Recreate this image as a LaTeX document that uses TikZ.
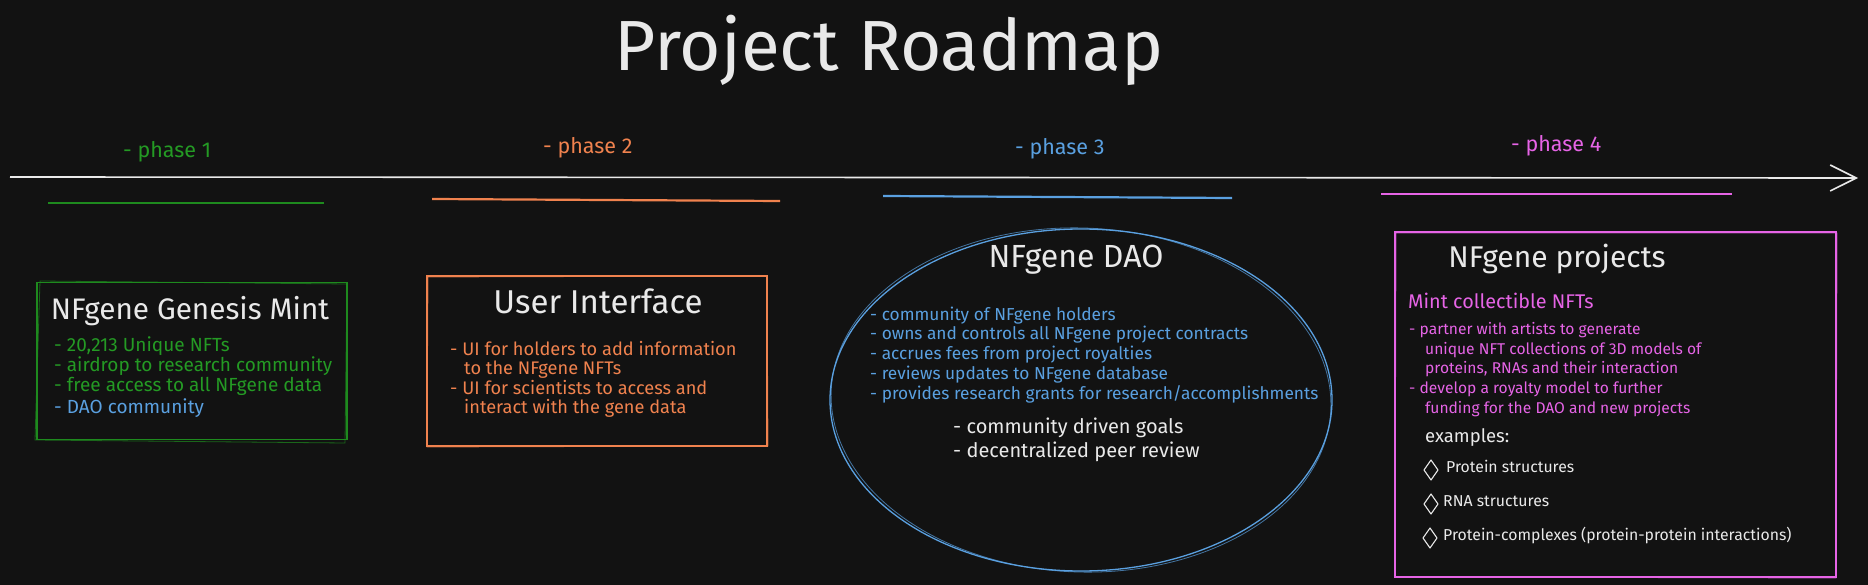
\documentclass[tikz,border=0pt]{standalone}
\usepackage{fontspec}
\setmainfont{Fira Sans}
\usetikzlibrary{arrows.meta,shapes.geometric}
\definecolor{bg}{HTML}{121212}
\definecolor{ink}{HTML}{E9E9E9}
\definecolor{grn}{HTML}{1E8A1E}
\definecolor{grntxt}{HTML}{249A24}
\definecolor{org}{HTML}{F0824E}
\definecolor{blu}{HTML}{5AA0E0}
\definecolor{pnk}{HTML}{E664E6}
\tikzset{
  txt/.style={inner sep=0pt, anchor=mid west, font=\fontsize{17.3}{20}\selectfont},
  ttl/.style={inner sep=0pt, anchor=mid, text=ink, font=\fontsize{30}{34}\selectfont},
  phase/.style={inner sep=0pt, anchor=mid west, font=\fontsize{21.5}{24}\selectfont},
  uline/.style={line width=2.2pt},
  frame/.style={draw, line width=1.3pt, inner sep=0pt},
  ghost/.style={line width=0.8pt, opacity=0.7},
  dia/.style={draw=ink, line width=1.1pt, line join=round},
}
\begin{document}
\begin{tikzpicture}[x=1pt,y=-1pt]
\fill[bg] (0,0) rectangle (1868,585);
\useasboundingbox (0,0) rectangle (1868,585);

% title
\node[inner sep=0pt, anchor=base, text=ink, font=\fontsize{71}{80}\selectfont] (title) at (889,71) {Project Roadmap};

% timeline
\coordinate (tl0) at (10,177);
\coordinate (tl1) at (1858,178);
\draw[ink, line width=1.6pt, -{Straight Barb[length=26pt,width=26pt,line width=1.6pt]}] (tl0) -- (tl1);

% phases
\node[phase, text=grntxt] (p1) at (123,155) {- phase 1};
\node[phase, text=org] (p2) at (543,151) {- phase 2};
\node[phase, text=blu] (p3) at (1015,152) {- phase 3};
\node[phase, text=pnk] (p4) at (1511,149) {- phase 4};

\coordinate (u1a) at (48,203); \coordinate (u1b) at (324,203);
\coordinate (u2a) at (432,199); \coordinate (u2b) at (780,201);
\coordinate (u3a) at (883,196); \coordinate (u3b) at (1232,198);
\coordinate (u4a) at (1381,194); \coordinate (u4b) at (1732,194);
\draw[uline, grn] (u1a) -- (u1b);
\draw[uline, org] (u2a) -- (u2b);
\draw[uline, blu] (u3a) -- (u3b);
\draw[uline, pnk] (u4a) -- (u4b);

% phase 1 box
\node[frame, draw=grn, minimum width=310pt, minimum height=157pt] (b1) at (192,361) {};
\draw[ghost, grn] (40,281) -- (347,284) -- (345,443) -- (35,440) -- cycle;
\node[ttl, font=\fontsize{29.7}{34}\selectfont] (b1t) at (190,317) {NFgene Genesis Mint};
\node[txt, text=grntxt, font=\fontsize{19}{22}\selectfont] (b1a) at (54,349) {- 20,213 Unique NFTs};
\node[txt, text=grntxt, font=\fontsize{19}{22}\selectfont] (b1b) at (54,369) {- airdrop to research community};
\node[txt, text=grntxt, font=\fontsize{19}{22}\selectfont] (b1c) at (54,389) {- free access to all NFgene data};
\node[txt, text=blu, font=\fontsize{19}{22}\selectfont] (b1d) at (54,411) {- DAO community};

% phase 2 box
\node[frame, draw=org, minimum width=340pt, minimum height=170pt] (b2) at (597,361) {};
\draw[ghost, org] (428,277) -- (767,276) -- (768,446) -- (427,447) -- cycle;
\node[ttl, font=\fontsize{33}{38}\selectfont] (b2t) at (598,311) {User Interface};
\node[txt, text=org, font=\fontsize{18.2}{22}\selectfont] (b2a) at (450,353) {- UI for holders to add information};
\node[txt, text=org, font=\fontsize{18.2}{22}\selectfont] (b2b) at (464,372) {to the NFgene NFTs};
\node[txt, text=org, font=\fontsize{18.2}{22}\selectfont] (b2c) at (450,392) {- UI for scientists to access and};
\node[txt, text=org, font=\fontsize{18.2}{22}\selectfont] (b2d) at (464,411) {interact with the gene data};

% phase 3 ellipse
\node[draw=blu, line width=1.3pt, ellipse, minimum width=502pt, minimum height=342pt, inner sep=0pt] (b3) at (1081,400) {};
\draw[ghost, blu, rotate around={-2:(1081,400)}] (1081,400) ellipse [x radius=250pt, y radius=172pt];
\node[ttl, font=\fontsize{32}{36}\selectfont] (b3t) at (1076,265) {NFgene DAO};
\node[txt, text=blu] (b3a) at (870,318) {- community of NFgene holders};
\node[txt, text=blu] (b3b) at (870,337) {- owns and controls all NFgene project contracts};
\node[txt, text=blu] (b3c) at (870,357) {- accrues fees from project royalties};
\node[txt, text=blu] (b3d) at (870,377) {- reviews updates to NFgene database};
\node[txt, text=blu] (b3e) at (870,397) {- provides research grants for research/accomplishments};
\node[txt, text=ink, font=\fontsize{20}{24}\selectfont] (b3f) at (953,431) {- community driven goals};
\node[txt, text=ink, font=\fontsize{20}{24}\selectfont] (b3g) at (953,455) {- decentralized peer review};

% phase 4 box
\node[frame, draw=pnk, minimum width=441pt, minimum height=345pt] (b4) at (1615.5,404.5) {};
\draw[ghost, pnk] (1396,233) -- (1837,233) -- (1836,578) -- (1395,577) -- cycle;
\node[ttl, font=\fontsize{30}{34}\selectfont] (b4t) at (1557,265) {NFgene projects};
\node[txt, text=pnk, font=\fontsize{19.8}{22}\selectfont] (b4a) at (1408,306) {Mint collectible NFTs};
\node[txt, text=pnk, font=\fontsize{15.6}{20}\selectfont] (b4b) at (1409,332) {- partner with artists to generate};
\node[txt, text=pnk, font=\fontsize{15.6}{20}\selectfont] (b4c) at (1425,352) {unique NFT collections of 3D models of};
\node[txt, text=pnk, font=\fontsize{15.6}{20}\selectfont] (b4d) at (1425,371) {proteins, RNAs and their interaction};
\node[txt, text=pnk, font=\fontsize{15.6}{20}\selectfont] (b4e) at (1409,391) {- develop a royalty model to further};
\node[txt, text=pnk, font=\fontsize{15.6}{20}\selectfont] (b4f) at (1425,411) {funding for the DAO and new projects};
\node[txt, text=ink, font=\fontsize{18.5}{22}\selectfont] (b4g) at (1425,440) {examples:};
\draw[dia] (1431,460) -- (1438,470) -- (1431,480) -- (1424,470) -- cycle;
\draw[dia] (1431,494) -- (1438,504) -- (1431,514) -- (1424,504) -- cycle;
\draw[dia] (1430,528) -- (1437,538) -- (1430,548) -- (1423,538) -- cycle;
\node[txt, text=ink, font=\fontsize{15.8}{20}\selectfont] (b4h) at (1446,470) {Protein structures};
\node[txt, text=ink, font=\fontsize{15.8}{20}\selectfont] (b4i) at (1443,504) {RNA structures};
\node[txt, text=ink, font=\fontsize{15.8}{20}\selectfont] (b4j) at (1443,538) {Protein-complexes (protein-protein interactions)};
\end{tikzpicture}
\end{document}
